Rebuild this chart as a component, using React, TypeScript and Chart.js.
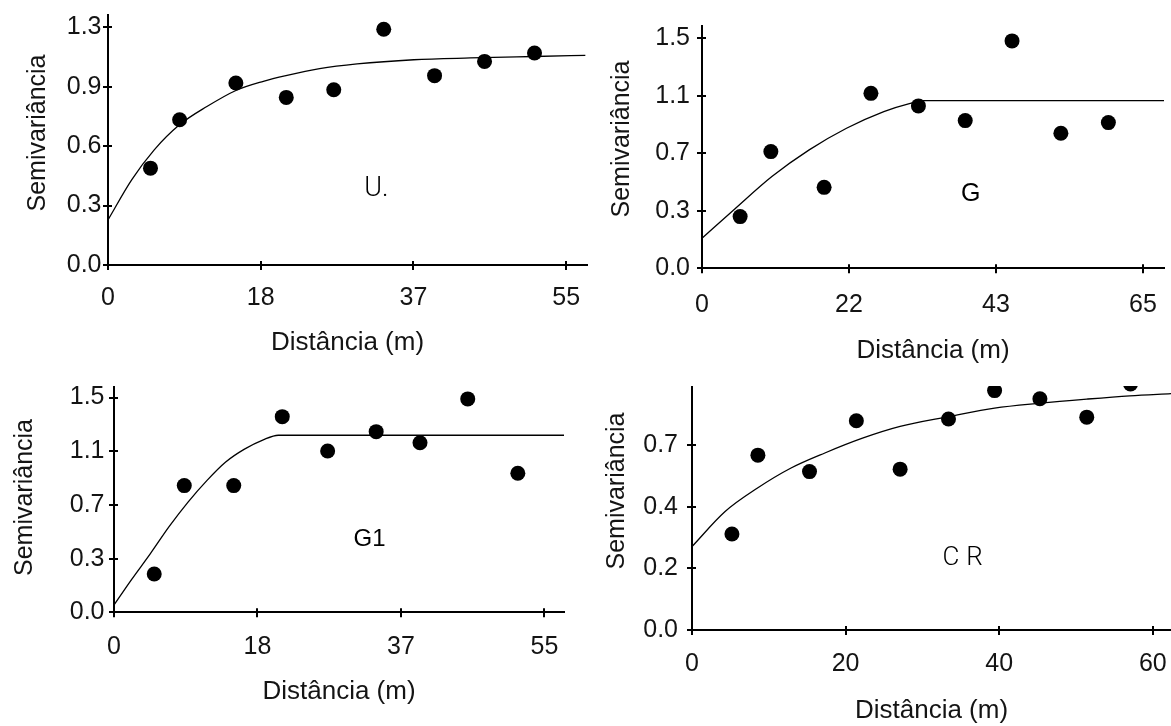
import { useEffect, useRef } from 'react';
import { Chart, registerables } from 'chart.js';

Chart.register(...registerables);

// ---- U. (exponential model) ----
const lagU = [5.1, 8.6, 15.35, 21.4, 27.1, 33.1, 39.2, 45.2, 51.2];
const semivarU = [0.53, 0.795, 0.996, 0.917, 0.959, 1.29, 1.036, 1.114, 1.16];
const modelLagU = [0, 2.84, 5.55, 8.58, 11.87, 15.35, 18.65, 21.36, 25.4, 29.9, 36.7, 43.5, 51.2, 57.3];
const modelU = [0.247, 0.466, 0.63, 0.767, 0.867, 0.955, 1.005, 1.036, 1.074, 1.1, 1.123, 1.133, 1.141, 1.147];
const xTicksU = [0, 18.33, 36.67, 55];
const xLabelsU = ['0', '18', '37', '55'];
const yTicksU = [0, 0.325, 0.65, 0.975, 1.3];
const yLabelsU = ['0.0', '0.3', '0.6', '0.9', '1.3'];

// ---- G (spherical model) ----
const lagG = [5.62, 10.15, 18.0, 24.9, 31.9, 38.8, 45.7, 52.9, 59.9];
const semivarG = [0.337, 0.761, 0.528, 1.141, 1.059, 0.963, 1.483, 0.881, 0.95];
const modelLagG = [0, 4.79, 10.3, 15.8, 21.3, 26.8, 30.7, 32.6, 68.1];
const modelG = [0.196, 0.385, 0.598, 0.772, 0.913, 1.022, 1.076, 1.093, 1.093];
const xTicksG = [0, 21.67, 43.33, 65];
const xLabelsG = ['0', '22', '43', '65'];
const yTicksG = [0, 0.375, 0.75, 1.125, 1.5];
const yLabelsG = ['0.0', '0.3', '0.7', '1.1', '1.5'];

// ---- G1 (spherical model) ----
const lagG1 = [5.14, 8.98, 15.3, 21.5, 27.3, 33.5, 39.1, 45.2, 51.6];
const semivarG1 = [0.268, 0.885, 0.885, 1.367, 1.127, 1.262, 1.185, 1.491, 0.971];
const modelLagG1 = [0, 2.26, 4.65, 7.06, 9.46, 11.86, 14.27, 16.67, 19.07, 21.0, 57.5];
const modelG1 = [0.051, 0.23, 0.41, 0.6, 0.77, 0.92, 1.05, 1.14, 1.205, 1.237, 1.237];
const xTicksG1 = [0, 18.33, 36.67, 55];
const xLabelsG1 = ['0', '18', '37', '55'];
const yTicksG1 = [0, 0.375, 0.75, 1.125, 1.5];
const yLabelsG1 = ['0.0', '0.3', '0.7', '1.1', '1.5'];

// ---- CR (exponential model) ----
const lagCR = [5.2, 8.58, 15.3, 21.4, 27.1, 33.4, 39.4, 45.3, 51.4, 57.1];
const semivarCR = [0.351, 0.639, 0.579, 0.765, 0.588, 0.771, 0.875, 0.845, 0.778, 0.899];
const modelLagCR = [0, 4.31, 8.48, 12.9, 17.3, 22.2, 27.1, 33.5, 39.4, 45.3, 51.4, 57.0, 62.4];
const modelCR = [0.305, 0.433, 0.518, 0.592, 0.647, 0.701, 0.744, 0.78, 0.811, 0.829, 0.844, 0.856, 0.864];
const xTicksCR = [0, 20, 40, 60];
const xLabelsCR = ['0', '20', '40', '60'];
const yTicksCR = [0, 0.225, 0.45, 0.675];
const yLabelsCR = ['0.0', '0.2', '0.4', '0.7'];

const TEXT = '#141414';
const SANS = '"Liberation Sans", Arial, sans-serif';

// Tick marks that cross the axis lines.
const crossTicks = {
  id: 'crossTicks',
  afterDraw(chart: any) {
    const { ctx, chartArea, scales } = chart;
    const xs = scales.x;
    const ys = scales.y;
    ctx.save();
    ctx.strokeStyle = '#000';
    ctx.lineWidth = 2;
    ctx.beginPath();
    xs.ticks.forEach((t: any) => {
      const px = Math.round(xs.getPixelForValue(t.value));
      ctx.moveTo(px, chartArea.bottom - 4);
      ctx.lineTo(px, chartArea.bottom + 5);
    });
    ys.ticks.forEach((t: any) => {
      const py = Math.round(ys.getPixelForValue(t.value));
      ctx.moveTo(chartArea.left - 5, py);
      ctx.lineTo(chartArea.left + 4, py);
    });
    ctx.stroke();
    ctx.restore();
  },
};

// Site name written inside the plot, anchored in data units.
const panelLabel = {
  id: 'panelLabel',
  afterDraw(chart: any, _args: any, opts: any) {
    if (!opts || !opts.text) return;
    const { ctx, scales } = chart;
    ctx.save();
    ctx.font = opts.font;
    ctx.fillStyle = '#000';
    ctx.textAlign = 'center';
    ctx.textBaseline = 'middle';
    (ctx as any).letterSpacing = opts.spacing || '0px';
    ctx.fillText(opts.text, scales.x.getPixelForValue(opts.x), scales.y.getPixelForValue(opts.y));
    ctx.restore();
  },
};

// Rotated y-axis title, placed at a fixed spot in the canvas.
const yTitle = {
  id: 'yTitle',
  afterDraw(chart: any, _args: any, opts: any) {
    if (!opts || !opts.text) return;
    const { ctx } = chart;
    ctx.save();
    ctx.translate(opts.cx, opts.cy);
    ctx.rotate(-Math.PI / 2);
    ctx.font = opts.font;
    ctx.fillStyle = TEXT;
    ctx.textAlign = 'center';
    ctx.textBaseline = 'middle';
    ctx.fillText(opts.text, 0, 0);
    ctx.restore();
  },
};

type Panel = {
  lags: number[];
  values: number[];
  modelLags: number[];
  model: number[];
  xTicks: number[];
  xLabels: string[];
  yTicks: number[];
  yLabels: string[];
  xMax: number;
  yMax: number;
  width: number;
  height: number;
  padTop: number;
  padRight: number;
  yAxisWidth: number;
  xAxisHeight: number;
  xTickGap: number;
  yTickGap: number;
  titleAt: [number, number];
  label: { text: string; x: number; y: number; font: string; spacing?: string };
};

const panels: Record<string, Panel> = {
  U: {
    lags: lagU, values: semivarU, modelLags: modelLagU, model: modelU,
    xTicks: xTicksU, xLabels: xLabelsU, yTicks: yTicksU, yLabels: yLabelsU,
    xMax: 57.5, yMax: 1.368,
    width: 592, height: 356, padTop: 15, padRight: 5, yAxisWidth: 108, xAxisHeight: 91,
    xTickGap: 20.8, yTickGap: 6.5, titleAt: [38.5, 133],
    label: { text: 'U.', x: 32.2, y: 0.416, font: `300 27px Roboto, ${SANS}` },
  },
  G: {
    lags: lagG, values: semivarG, modelLags: modelLagG, model: modelG,
    xTicks: xTicksG, xLabels: xLabelsG, yTicks: yTicksG, yLabels: yLabelsG,
    xMax: 68.1, yMax: 1.58,
    width: 581, height: 364, padTop: 26, padRight: 7, yAxisWidth: 112, xAxisHeight: 95.7,
    xTickGap: 24.2, yTickGap: 12, titleAt: [31.7, 139],
    label: { text: 'G', x: 39.6, y: 0.485, font: `25px ${SANS}` },
  },
  G1: {
    lags: lagG1, values: semivarG1, modelLags: modelLagG1, model: modelG1,
    xTicks: xTicksG1, xLabels: xLabelsG1, yTicks: yTicksG1, yLabels: yLabelsG1,
    xMax: 57.5, yMax: 1.574,
    width: 572, height: 335, padTop: 17, padRight: 8, yAxisWidth: 114, xAxisHeight: 92.7,
    xTickGap: 22.7, yTickGap: 9.5, titleAt: [25.4, 127.5],
    label: { text: 'G1', x: 32.66, y: 0.512, font: `24px ${SANS}` },
  },
  CR: {
    lags: lagCR, values: semivarCR, modelLags: modelLagCR, model: modelCR,
    xTicks: xTicksCR, xLabels: xLabelsCR, yTicks: yTicksCR, yLabels: yLabelsCR,
    xMax: 62.37, yMax: 0.89,
    width: 586, height: 384, padTop: 46.5, padRight: 0, yAxisWidth: 107, xAxisHeight: 94,
    xTickGap: 21.5, yTickGap: 14, titleAt: [31.7, 151],
    label: { text: 'CR', x: 35.7, y: 0.261, font: `300 26px Roboto, ${SANS}`, spacing: '7px' },
  },
};

// Layout boxes come only from the sizes set here, not from label overhang.
const pinBox = (s: any, size: { width?: number; height?: number }) => {
  if (size.width !== undefined) s.width = size.width;
  if (size.height !== undefined) s.height = size.height;
  s.paddingLeft = 0;
  s.paddingRight = 0;
  s.paddingTop = 0;
  s.paddingBottom = 0;
};

function Variogram({ p }: { p: Panel }) {
  const ref = useRef<HTMLCanvasElement | null>(null);

  useEffect(() => {
    if (!ref.current) return;
    const tickFont = { family: SANS, size: 25, lineHeight: 1 };
    const hiddenGrid = (len: number) => ({
      display: true,
      drawOnChartArea: false,
      drawTicks: true,
      tickLength: len,
      color: 'rgba(0,0,0,0)',
      tickColor: 'rgba(0,0,0,0)',
    });
    const chart = new Chart(ref.current, {
      type: 'scatter',
      data: {
        datasets: [
          {
            label: 'modelo',
            data: p.modelLags.map((x, i) => ({ x, y: p.model[i] })),
            showLine: true,
            pointRadius: 0,
            borderColor: '#000',
            borderWidth: 1.3,
            cubicInterpolationMode: 'monotone',
            clip: false,
          } as any,
          {
            label: 'semivariância',
            data: p.lags.map((x, i) => ({ x, y: p.values[i] })),
            pointRadius: 7.5,
            pointBackgroundColor: '#000',
            pointBorderWidth: 0,
            borderColor: '#000',
            clip: false,
          } as any,
        ],
      },
      options: {
        responsive: false,
        animation: false,
        devicePixelRatio: 1,
        layout: {
          autoPadding: false,
          padding: { top: p.padTop, right: p.padRight, left: 0, bottom: 0 },
        },
        plugins: {
          legend: { display: false },
          tooltip: { enabled: false },
          panelLabel: p.label,
          yTitle: {
            text: 'Semivariância',
            cx: p.titleAt[0],
            cy: p.titleAt[1],
            font: `25px ${SANS}`,
          },
        } as any,
        scales: {
          x: {
            type: 'linear',
            min: 0,
            max: p.xMax,
            afterBuildTicks: (s: any) => {
              s.ticks = p.xTicks.map((value) => ({ value }));
            },
            afterFit: (s: any) => pinBox(s, { height: p.xAxisHeight }),
            ticks: {
              autoSkip: false,
              maxRotation: 0,
              padding: 0,
              color: TEXT,
              font: tickFont,
              callback: (_v: any, i: number) => p.xLabels[i],
            },
            grid: hiddenGrid(p.xTickGap),
            border: { display: true, color: '#000', width: 2 },
            title: {
              display: true,
              text: 'Distância (m)',
              color: TEXT,
              font: { family: SANS, size: 26, lineHeight: 1 },
              padding: { top: 0, bottom: 0 },
            },
          },
          y: {
            type: 'linear',
            min: 0,
            max: p.yMax,
            afterBuildTicks: (s: any) => {
              s.ticks = p.yTicks.map((value) => ({ value }));
            },
            afterFit: (s: any) => pinBox(s, { width: p.yAxisWidth }),
            ticks: {
              autoSkip: false,
              padding: 0,
              color: TEXT,
              font: tickFont,
              callback: (_v: any, i: number) => p.yLabels[i],
            },
            grid: hiddenGrid(p.yTickGap),
            border: { display: true, color: '#000', width: 2 },
            title: { display: false },
          },
        },
      } as any,
      plugins: [crossTicks, panelLabel, yTitle],
    });
    return () => chart.destroy();
  }, [p]);

  return <canvas ref={ref} width={p.width} height={p.height} style={{ display: 'block', width: p.width, height: p.height }} />;
}

export default function App() {
  return (
    <div style={{ position: 'absolute', left: 0, top: 0, width: 1171, height: 726, background: '#fff', overflow: 'hidden' }}>
      <div style={{ position: 'absolute', left: 0, top: 0 }}>
        <Variogram p={panels.U} />
      </div>
      <div style={{ position: 'absolute', left: 590, top: 0 }}>
        <Variogram p={panels.G} />
      </div>
      <div style={{ position: 'absolute', left: 0, top: 370 }}>
        <Variogram p={panels.G1} />
      </div>
      <div style={{ position: 'absolute', left: 585, top: 386, width: 586, height: 340, overflow: 'hidden' }}>
        <div style={{ position: 'absolute', left: 0, top: -46 }}>
          <Variogram p={panels.CR} />
        </div>
      </div>
    </div>
  );
}
